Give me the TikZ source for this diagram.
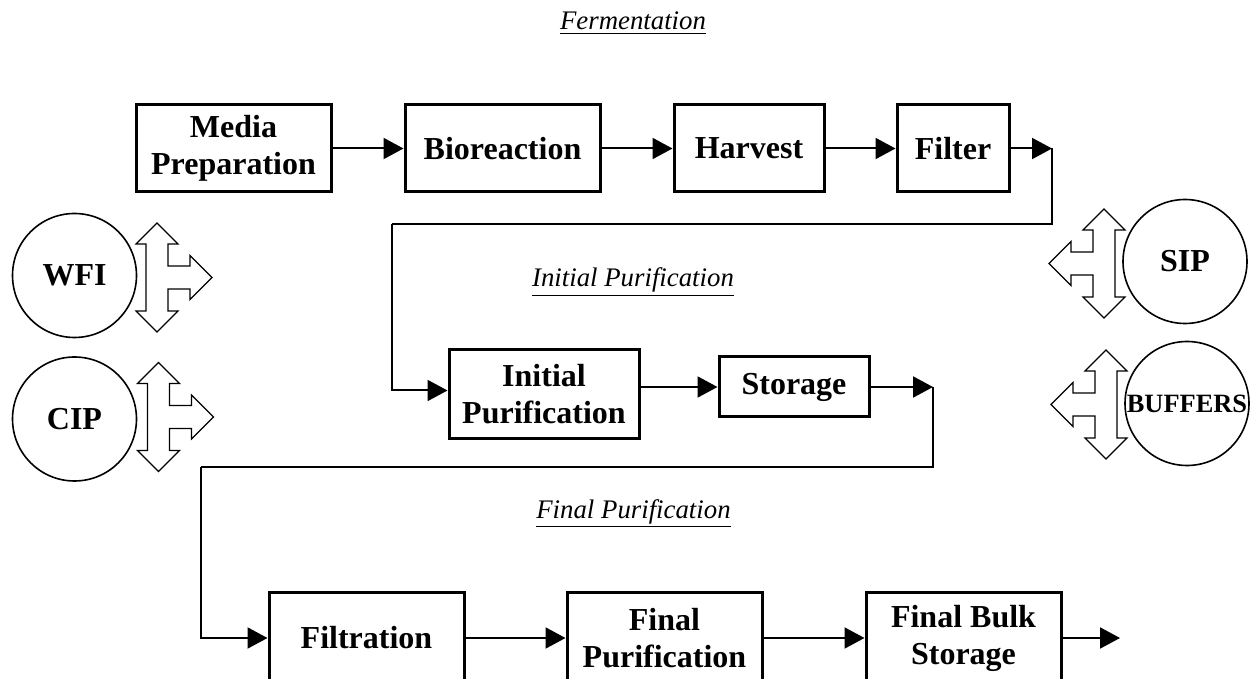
\documentclass[tikz,border=0pt]{standalone}
\usepackage{fontspec}
\setmainfont{Liberation Serif}
\usetikzlibrary{arrows.meta}

\begin{document}
\begin{tikzpicture}[x=0.5pt,y=-0.5pt,
  box/.style={draw,line width=1.5pt,align=center,inner sep=0pt,
    font=\fontsize{16}{18.5}\selectfont\bfseries},
  tank/.style={draw,circle,line width=0.8pt,inner sep=0pt,minimum size=62pt,
    font=\fontsize{16}{19}\selectfont\bfseries},
  stage/.style={anchor=base,font=\fontsize{13.4}{16}\selectfont\itshape},
  arr/.style={line width=1pt,-{Triangle[length=10pt,width=10.5pt]}},
  pipe/.style={line width=1pt},
  fatarrow/.pic={\draw[line width=0.6pt,line join=miter]
    (0,-54.5) -- (21,-33.5) -- (11,-33.5) -- (11,-11.5) -- (33,-11.5) -- (33,-22)
    -- (55,0) -- (33,22) -- (33,11.5) -- (11,11.5) -- (11,33.5) -- (21,33.5)
    -- (0,54.5) -- (-21,33.5) -- (-11,33.5) -- (-11,-33.5) -- (-21,-33.5) -- cycle;}]
\useasboundingbox (0,0) rectangle (1254,679);
\clip (0,0) rectangle (1254,679);

\node[stage] (ferm) at (633,30) {\underline{Fermentation}};
\node[stage] (initlbl) at (633,287) {\underline{Initial Purification}};
\node[stage] (finlbl) at (633.5,518) {\underline{Final Purification}};

\node[box,minimum width=97.5pt,minimum height=43.5pt] (media) at (233.5,148.5) {Media\\Preparation};
\node[box,minimum width=97.5pt,minimum height=43.5pt] (bio) at (502.5,148.5) {Bioreaction};
\node[box,minimum width=75pt,minimum height=43.5pt] (harv) at (749,148.5) {Harvest};
\node[box,minimum width=56pt,minimum height=43.5pt] (filter) at (953,148.5) {Filter};

\node[box,minimum width=95pt,minimum height=44.5pt] (init) at (544,394.5) {Initial\\Purification};
\node[box,minimum width=75pt,minimum height=30pt] (store) at (794,387) {Storage};

\node[box,minimum width=97.5pt,minimum height=46pt] (filt) at (366.5,638) {Filtration};
\node[box,minimum width=97.5pt,minimum height=46pt] (finpur) at (664.5,638) {Final\\Purification};
\node[box,minimum width=97.5pt,minimum height=46pt] (bulk) at (963.5,638) {Final Bulk\\Storage};

\coordinate (t1) at (1052,148.5);
\coordinate (t2) at (392,224);
\coordinate (t3) at (933,387);
\coordinate (t4) at (201,467);
\coordinate (out) at (1120,638);

\draw[arr] (media) -- (bio);
\draw[arr] (bio) -- (harv);
\draw[arr] (harv) -- (filter);
\draw[arr] (filter) -- (t1);
\draw[pipe] (t1) |- (t2);
\draw[arr] (t2) |- ([yshift=2pt]init.west);
\draw[arr] (init.east |- store) -- (store);
\draw[arr] (store) -- (t3);
\draw[pipe] (t3) |- (t4);
\draw[arr] (t4) |- (filt);
\draw[arr] (filt) -- (finpur);
\draw[arr] (finpur) -- (bulk);
\draw[arr] (bulk) -- (out);

\node[tank] (wfi) at (74.5,275.5) {WFI};
\node[tank] (cip) at (74.5,419) {CIP};
\node[tank] (sip) at (1185,261.5) {SIP};
\node[tank,font=\fontsize{13.2}{16}\selectfont\bfseries] (buf) at (1187,403.5) {\makebox[0pt]{BUFFERS}};

\pic at (157,277.5) {fatarrow};
\pic at (158.5,417) {fatarrow};
\pic[xscale=-1] at (1104,263.5) {fatarrow};
\pic[xscale=-1] at (1106,404.5) {fatarrow};
\end{tikzpicture}
\end{document}
